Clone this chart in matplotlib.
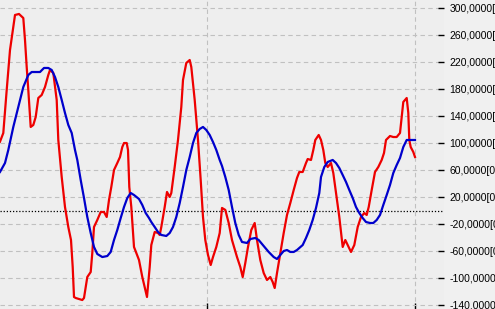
import matplotlib
matplotlib.use('Agg')
import matplotlib.pyplot as plt
from matplotlib.ticker import FixedLocator, FuncFormatter

# red oscillator (bar position, value)
red_x = [0, 3.3, 6.7, 10, 15, 19, 23.3, 25, 26.7, 28.3, 30.7, 33.3, 35.7, 38.3, 41.7, 45, 48.3, 50,
         53.3, 56.7, 58.3, 61.7, 65, 68.3, 71, 72.7, 74, 75.7, 82.3, 84, 85.7, 87.3, 90.7, 92.3, 94,
         97.3, 100.7, 104, 106.7, 109, 111.3, 114, 117.3, 120, 122.3, 124, 126.7, 128, 129.3, 131.3,
         134, 139, 142.3, 144.7, 147, 149.7, 151.3, 154.7, 158, 159.7, 161.3, 164.7, 167, 169.7,
         171.3, 174.7, 178, 181.3, 183, 186.3, 189.7, 191.3, 194.7, 198, 200.7, 203, 205.3, 208,
         210.7, 213, 216.3, 219.7, 222, 225.3, 228.7, 232, 237, 240.3, 242.7, 245.3, 248, 251.3,
         254.7, 257, 260.3, 263.7, 267, 270.3, 272.7, 274.7, 277, 280.3, 283.7, 287, 290.3, 293.7,
         297, 299.3, 302.7, 306, 307.7, 311, 313.3, 315.3, 318.7, 321, 323.3, 325.3, 327.7, 331,
         333.3, 336, 339.3, 342.7, 345.3, 347.7, 351, 354.3, 357.7, 361, 364.3, 366.7, 368.7, 371.7,
         375, 378.3, 381.7, 384, 386, 390, 393.3, 396.7, 400, 401.7, 403.3, 406.7, 408.3, 409.3,
         410.7, 413.3, 415]
red_y = [102.2, 115, 178.8, 238, 289.9, 291.4, 285.4, 252.8, 212.8, 178.8, 124, 126.9, 138.8, 166.9,
         171.4, 183.2, 201, 208.4, 204, 164, 104.7, 49.9, 5.4, -24.2, -43.5, -83.5, -127.9, -129.4,
         -132.4, -129.4, -113.1, -98.3, -90.9, -62.7, -24.2, -13.8, -2, -2, -9.4, 15.8, 35.1, 60.2,
         70.6, 79.5, 94.3, 100.2, 100.2, 89.9, 35.1, 5.4, -53.8, -73.1, -98.3, -113.1, -127.9, -83.5,
         -50.9, -31.6, -33.1, -36, -24.2, 5.4, 27.7, 20.3, 26.2, 64.7, 104.7, 153.6, 193.6, 218.8,
         223.2, 212.8, 164, 104.7, 45.4, -9.4, -43.5, -65.7, -80.5, -68.7, -53.8, -33.1, 4, 1.1,
         -18.3, -43.5, -68.7, -83.5, -98.3, -77.5, -53.8, -28.6, -18.3, -43.5, -73.1, -92.4, -102.7,
         -98.3, -105.7, -114.6, -92.4, -62.7, -33.1, -6.4, 11.3, 30.6, 48.4, 57.3, 57.3, 70.6, 76.5,
         75.1, 89.9, 104.7, 112.1, 104.7, 89.9, 70.6, 64.7, 70.6, 55.8, 26.2, -9.4, -53.8, -43.5,
         -50.9, -61.2, -50.9, -24.2, -9.4, -3.5, -6.4, 5.4, 30.6, 57.3, 64.7, 75.1, 85.4, 104.7,
         110.6, 109.1, 109.1, 115.1, 138.8, 161, 166.9, 144.7, 104.7, 94.3, 86.9, 79.5]

# blue signal line (bar position, value)
blue_x = [0, 5, 8.3, 13.3, 18.3, 23.3, 28.3, 31.7, 36.7, 40, 44, 48.3, 51.7, 55, 58.3, 61.7, 65,
          68.3, 71.7, 75, 77.3, 80.7, 84, 87.3, 90.7, 94, 97.3, 102.3, 107.3, 110.7, 114, 117.3,
          120.7, 124, 127.3, 130.7, 134, 139, 142.3, 145.7, 149, 151.3, 154.7, 158, 161.3, 166.3,
          169.7, 173, 176.3, 179.7, 183, 186.3, 189.7, 193, 196.3, 199.7, 203, 206.3, 209.7, 213,
          216.3, 219.7, 222, 225.3, 228.7, 232, 235.3, 238.7, 242, 247, 250.3, 255.3, 258.7, 263.7,
          268.7, 273.7, 277, 280.3, 283.7, 287, 290.3, 293.7, 297, 299.3, 302.7, 306, 309.3, 312.7,
          316, 319.3, 321, 324.3, 327.7, 332.7, 336, 339.3, 342.7, 346, 349.3, 352.7, 356, 359.3,
          362.7, 366, 370, 373.3, 376.7, 380, 383.3, 386.7, 390, 393.3, 396.7, 400, 403.3, 406.7,
          415]
blue_y = [57.3, 70.6, 89.9, 124, 153.6, 183.2, 201, 205.4, 205.4, 205.4, 211.4, 211.4, 208.4, 198,
          183.2, 164, 144.7, 127, 115.1, 89.9, 75.1, 45.4, 18.8, -9.4, -33.1, -53.8, -64.2, -68.7,
          -67.2, -61.2, -43.5, -28.6, -10.9, 5.4, 18.8, 26.2, 23.2, 17.3, 8.4, -3.5, -10.9, -16.8,
          -24.2, -31.6, -36, -37.5, -33.1, -24.2, -9.4, 11.3, 35.1, 60.2, 79.5, 100.2, 115.1, 121,
          124, 119.5, 112.1, 101.7, 89.9, 75.1, 66.2, 49.9, 30.6, 5.4, -18.3, -36, -46.4, -47.9,
          -42, -40.5, -43.5, -52.4, -61.2, -68.7, -71.6, -65.7, -59.8, -58.3, -61.2, -61.2, -58.3,
          -55.3, -50.9, -40.5, -28.6, -13.8, 4, 26.2, 49.9, 64.7, 72.1, 75.1, 70.6, 63.2, 52.8, 42.5,
          30.6, 18.8, 5.4, -3.5, -10.9, -16.8, -18.3, -18.3, -13.8, -6.4, 8.4, 23.2, 38, 55.8, 67.6,
          78, 94.3, 104.7, 104.7]

y_ticks = [300, 260, 220, 180, 140, 100, 60, 20, -20, -60, -100, -140]
x_marks = [207, 415]

plt.rcParams['font.family'] = ['Liberation Sans', 'DejaVu Sans']

fig = plt.figure(figsize=(4.95, 3.09), dpi=100, facecolor='#f0f0f0')
ax = fig.add_axes([0, 0, 444 / 495, 1])
ax.set_facecolor('#eeeeee')

ax.plot(red_x, red_y, color='#ee0000', lw=1.6, zorder=3)
ax.plot(blue_x, blue_y, color='#0000cc', lw=1.6, zorder=4)
ax.axhline(0, color='black', lw=0.9, ls=(0, (1, 1.5)), zorder=2)

ax.set_xlim(0, 444)
ax.set_ylim(-145.7, 312.1)

ax.yaxis.tick_right()
ax.yaxis.set_major_locator(FixedLocator(y_ticks))
ax.yaxis.set_major_formatter(FuncFormatter(lambda v, p: f'{v:.4f}'.replace('.', ',') + '[0]'))
ax.xaxis.set_major_locator(FixedLocator(x_marks))
ax.set_xticklabels([])
ax.tick_params(axis='y', direction='in', length=4.5, width=1, pad=4, labelsize=7.5, colors='black')
ax.tick_params(axis='x', direction='in', length=4.5, width=1)

ax.grid(True, color='#c0c0c0', ls=(0, (4, 3)), lw=0.8, zorder=1)
for s in ax.spines.values():
    s.set_visible(False)

fig.savefig('out.png', dpi=100, facecolor=fig.get_facecolor())
